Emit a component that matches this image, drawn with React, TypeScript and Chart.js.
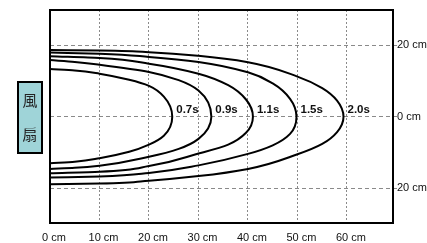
import React, { useEffect, useRef } from "react";
import { Chart, registerables } from "chart.js";

Chart.register(...registerables);

// Curve labels (time of flight)
const curveLabels = ["0.7s", "0.9s", "1.1s", "1.5s", "2.0s"];

// Each curve: [distance cm, lateral offset cm], from top edge round the tip to the bottom edge
const curve07: [number, number][] = [
  [0, 13.3], [5, 12.9], [10, 12.0], [16, 10.3], [20, 8.6], [23, 5.6], [24.7, 0],
  [23, -5.3], [20, -7.8], [16, -9.8], [10, -11.6], [5, -12.6], [0, -13.0],
];
const curve09: [number, number][] = [
  [0, 15.8], [5, 15.3], [10, 14.5], [20, 12.5], [26, 10.2], [30, 7.3], [32.6, 0],
  [30, -6.2], [26, -9.0], [20, -11.2], [10, -13.7], [5, -14.3], [0, -14.6],
];
const curve11: [number, number][] = [
  [0, 16.9], [10, 16.4], [20, 14.8], [30, 12.0], [36, 8.8], [39.6, 4.8], [41, 0],
  [39.6, -4.5], [36, -7.8], [30, -10.3], [20, -13.8], [10, -15.4], [0, -15.8],
];
const curve15: [number, number][] = [
  [0, 17.9], [10, 17.6], [20, 16.7], [30, 15.3], [40, 12.4], [45, 9.3], [48.5, 5.0], [49.8, 0],
  [48.5, -4.8], [45, -8.0], [40, -10.4], [30, -13.6], [20, -15.7], [10, -16.7], [0, -17.0],
];
const curve20: [number, number][] = [
  [0, 18.6], [10, 18.5], [20, 18.0], [30, 17.0], [40, 15.2], [50, 11.2], [55, 8.0], [58, 4.5], [59.3, 0],
  [58, -4.3], [55, -7.6], [50, -10.5], [40, -14.6], [30, -16.6], [20, -17.9], [10, -18.7], [0, -18.9],
];
const curves = [curve07, curve09, curve11, curve15, curve20];

// Axis ticks
const xTickValues = [0, 10, 20, 30, 40, 50, 60];
const yTickValues = [-20, 0, 20];
const fanText = ["風", "扇"];

const FONT = "'Liberation Sans', Arial, sans-serif";

const overlayPlugin = {
  id: "overlay",
  afterDraw(chart: any) {
    const { ctx, chartArea, scales } = chart;
    const xs = scales.x;
    const ys = scales.y;
    ctx.save();
    ctx.strokeStyle = "#000";
    ctx.lineWidth = 2;
    ctx.setLineDash([]);
    ctx.strokeRect(chartArea.left, chartArea.top, chartArea.right - chartArea.left, chartArea.bottom - chartArea.top);

    ctx.fillStyle = "#111";
    ctx.font = `bold 11.5px ${FONT}`;
    ctx.textAlign = "left";
    ctx.textBaseline = "alphabetic";
    const y0 = ys.getPixelForValue(0);
    curves.forEach((c, i) => {
      const maxX = Math.max(...c.map((p) => p[0]));
      const px = xs.getPixelForValue(maxX);
      ctx.fillText(curveLabels[i], px + 4, y0 - 4);
    });

    const bx = 18, by = 82, bw = 24, bh = 71;
    ctx.fillStyle = "#9fd4d8";
    ctx.fillRect(bx, by, bw, bh);
    ctx.strokeStyle = "#000";
    ctx.lineWidth = 2;
    ctx.strokeRect(bx, by, bw, bh);
    ctx.fillStyle = "#222";
    ctx.font = `15px 'Noto Sans CJK TC', 'Noto Sans CJK SC', sans-serif`;
    ctx.textAlign = "center";
    ctx.textBaseline = "middle";
    ctx.fillText(fanText[0], bx + bw / 2, 100);
    ctx.fillText(fanText[1], bx + bw / 2, 134);
    ctx.restore();
  },
};

export default function App() {
  const ref = useRef<HTMLCanvasElement | null>(null);
  useEffect(() => {
    document.body.style.margin = "0";
    const canvas = ref.current!;
    const chart = new Chart(canvas, {
      type: "scatter",
      data: {
        datasets: curves.map((c, i) => ({
          label: curveLabels[i],
          data: c.map(([x, y]) => ({ x, y })),
          showLine: true,
          borderColor: "#000",
          borderWidth: 2,
          pointRadius: 0,
          indexAxis: "y",
          cubicInterpolationMode: "monotone",
          fill: false,
        })),
      },
      options: {
        animation: false,
        responsive: false,
        layout: { padding: { left: 50, top: 10, right: 0, bottom: 0 } },
        plugins: { legend: { display: false }, tooltip: { enabled: false } },
        scales: {
          x: {
            type: "linear",
            min: 0,
            max: 69.3,
            afterBuildTicks: (s: any) => {
              s.ticks = xTickValues.map((v) => ({ value: v }));
            },
            afterFit: (s: any) => {
              s.height = 20;
            },
            grid: { color: "#8a8a8a", lineWidth: 1, drawTicks: false },
            border: { display: false, dash: [2, 2] },
            ticks: {
              padding: 8,
              maxRotation: 0,
              autoSkip: false,
              labelOffset: 4,
              color: "#111",
              font: { family: FONT, size: 11 },
              callback: (v: any) => `${v} cm`,
            },
          },
          y: {
            type: "linear",
            position: "right",
            min: -29.7,
            max: 29.8,
            afterBuildTicks: (s: any) => {
              s.ticks = yTickValues.map((v) => ({ value: v }));
            },
            afterFit: (s: any) => {
              s.width = 34;
            },
            grid: { color: "#8a8a8a", lineWidth: 1, drawTicks: true, tickLength: 4 },
            border: { display: false, dash: [4, 3] },
            ticks: {
              padding: 0,
              color: "#111",
              font: { family: FONT, size: 11 },
              callback: (v: any) => `${Math.abs(v)} cm`,
            },
          },
        },
      },
      plugins: [overlayPlugin],
    });
    return () => chart.destroy();
  }, []);
  return <canvas ref={ref} width={427} height={243} style={{ display: "block" }} />;
}
